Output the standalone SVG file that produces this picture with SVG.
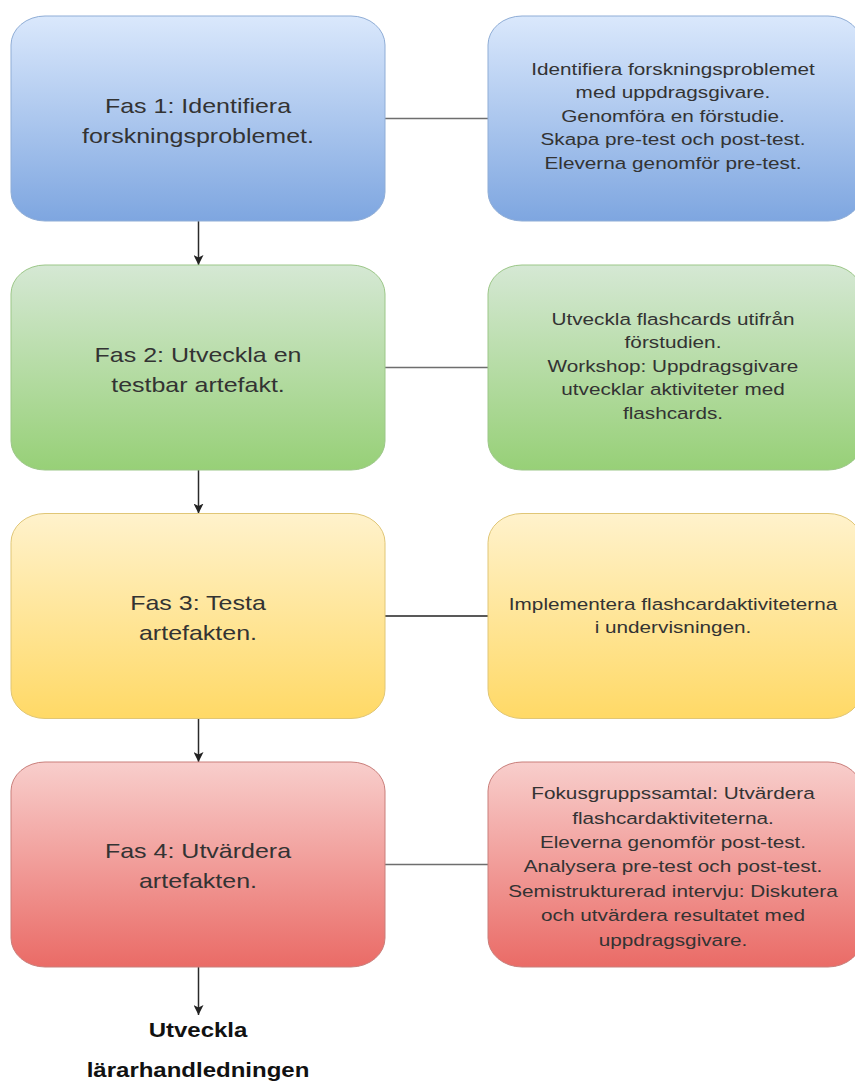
<svg xmlns="http://www.w3.org/2000/svg" width="855" height="1085" viewBox="0 0 855 1085">
  <defs>
    <linearGradient id="gBlue" x1="0" y1="0" x2="0" y2="1">
      <stop offset="0" stop-color="#dae8fc"/>
      <stop offset="1" stop-color="#7ea6e0"/>
    </linearGradient>
    <linearGradient id="gGreen" x1="0" y1="0" x2="0" y2="1">
      <stop offset="0" stop-color="#d5e8d4"/>
      <stop offset="1" stop-color="#97d077"/>
    </linearGradient>
    <linearGradient id="gYellow" x1="0" y1="0" x2="0" y2="1">
      <stop offset="0" stop-color="#fff2cc"/>
      <stop offset="1" stop-color="#ffd966"/>
    </linearGradient>
    <linearGradient id="gRed" x1="0" y1="0" x2="0" y2="1">
      <stop offset="0" stop-color="#f8cecc"/>
      <stop offset="1" stop-color="#ea6b66"/>
    </linearGradient>
    <marker id="arrow" viewBox="0 0 10 10" refX="10" refY="5" markerWidth="10" markerHeight="10" markerUnits="userSpaceOnUse" orient="auto">
      <path d="M0,0 L10,5 L0,10 L2.5,5 Z" fill="#222"/>
    </marker>
  </defs>
  <style>
    .box { stroke-width: 1; }
    .blue { fill: url(#gBlue); stroke: #8fadd6; }
    .green { fill: url(#gGreen); stroke: #9cc788; }
    .yellow { fill: url(#gYellow); stroke: #e0c676; }
    .red { fill: url(#gRed); stroke: #c97e7a; }
    .lt { font-family: "Liberation Sans", Arial, sans-serif; font-size: 21px; fill: #333; text-anchor: middle; }
    .rt { font-family: "Liberation Sans", Arial, sans-serif; font-size: 17px; fill: #333; text-anchor: middle; }
    .bt { font-family: "Liberation Sans", Arial, sans-serif; font-size: 20px; font-weight: bold; fill: #111; text-anchor: middle; }
    .hline { stroke: #6e6e6e; stroke-width: 1.3; fill: none; }
    .vline { stroke: #2a2a2a; stroke-width: 1.5; fill: none; }
  </style>

  <g id="connectors">
    <line class="hline" x1="385" y1="118.5" x2="488" y2="118.5"/>
    <line class="hline" x1="385" y1="367.5" x2="488" y2="367.5"/>
    <line class="hline" x1="385" y1="616" x2="488" y2="616" style="stroke:#222"/>
    <line class="hline" x1="385" y1="864.5" x2="488" y2="864.5"/>
    <line class="vline" x1="198.5" y1="221" x2="198.5" y2="265" marker-end="url(#arrow)"/>
    <line class="vline" x1="198.5" y1="470" x2="198.5" y2="513.5" marker-end="url(#arrow)"/>
    <line class="vline" x1="198.5" y1="718.5" x2="198.5" y2="762" marker-end="url(#arrow)"/>
    <line class="vline" x1="198.5" y1="967" x2="198.5" y2="1015" marker-end="url(#arrow)"/>
  </g>

  <g id="fas1">
    <rect class="box blue" x="11" y="16" width="374" height="205" rx="34" ry="29"/>
    <g transform="translate(198,0) scale(1.19,1)">
      <text class="lt" x="0" y="113">Fas 1: Identifiera</text>
      <text class="lt" x="0" y="143.5">forskningsproblemet.</text>
    </g>
  </g>
  <g id="fas1-detail">
    <rect class="box blue" x="488" y="16" width="374" height="205" rx="34" ry="29"/>
    <g transform="translate(673,0) scale(1.22,1)">
      <text class="rt" x="0" y="75">Identifiera forskningsproblemet</text>
      <text class="rt" x="0" y="98.5">med uppdragsgivare.</text>
      <text class="rt" x="0" y="122">Genomföra en förstudie.</text>
      <text class="rt" x="0" y="145.5">Skapa pre-test och post-test.</text>
      <text class="rt" x="0" y="169">Eleverna genomför pre-test.</text>
    </g>
  </g>

  <g id="fas2">
    <rect class="box green" x="11" y="265" width="374" height="205" rx="34" ry="29"/>
    <g transform="translate(198,0) scale(1.19,1)">
      <text class="lt" x="0" y="362">Fas 2: Utveckla en</text>
      <text class="lt" x="0" y="392">testbar artefakt.</text>
    </g>
  </g>
  <g id="fas2-detail">
    <rect class="box green" x="488" y="265" width="374" height="205" rx="34" ry="29"/>
    <g transform="translate(673,0) scale(1.22,1)">
      <text class="rt" x="0" y="325">Utveckla flashcards utifrån</text>
      <text class="rt" x="0" y="348.5">förstudien.</text>
      <text class="rt" x="0" y="372">Workshop: Uppdragsgivare</text>
      <text class="rt" x="0" y="395.5">utvecklar aktiviteter med</text>
      <text class="rt" x="0" y="419">flashcards.</text>
    </g>
  </g>

  <g id="fas3">
    <rect class="box yellow" x="11" y="513.5" width="374" height="205" rx="34" ry="29"/>
    <g transform="translate(198,0) scale(1.19,1)">
      <text class="lt" x="0" y="610">Fas 3: Testa</text>
      <text class="lt" x="0" y="640">artefakten.</text>
    </g>
  </g>
  <g id="fas3-detail">
    <rect class="box yellow" x="488" y="513.5" width="374" height="205" rx="34" ry="29"/>
    <g transform="translate(673,0) scale(1.22,1)">
      <text class="rt" x="0" y="610">Implementera flashcardaktiviteterna</text>
      <text class="rt" x="0" y="633.5">i undervisningen.</text>
    </g>
  </g>

  <g id="fas4">
    <rect class="box red" x="11" y="762" width="374" height="205" rx="34" ry="29"/>
    <g transform="translate(198,0) scale(1.19,1)">
      <text class="lt" x="0" y="858.5">Fas 4: Utvärdera</text>
      <text class="lt" x="0" y="888.5">artefakten.</text>
    </g>
  </g>
  <g id="fas4-detail">
    <rect class="box red" x="488" y="762" width="374" height="205" rx="34" ry="29"/>
    <g transform="translate(673,0) scale(1.22,1)">
      <text class="rt" x="0" y="799">Fokusgruppssamtal: Utvärdera</text>
      <text class="rt" x="0" y="823.5">flashcardaktiviteterna.</text>
      <text class="rt" x="0" y="848">Eleverna genomför post-test.</text>
      <text class="rt" x="0" y="872.5">Analysera pre-test och post-test.</text>
      <text class="rt" x="0" y="897">Semistrukturerad intervju: Diskutera</text>
      <text class="rt" x="0" y="921.5">och utvärdera resultatet med</text>
      <text class="rt" x="0" y="946">uppdragsgivare.</text>
    </g>
  </g>

  <g id="result">
    <g transform="translate(198,0) scale(1.2,1)">
      <text class="bt" x="0" y="1037">Utveckla</text>
      <text class="bt" x="0" y="1077">lärarhandledningen</text>
    </g>
  </g>
</svg>
